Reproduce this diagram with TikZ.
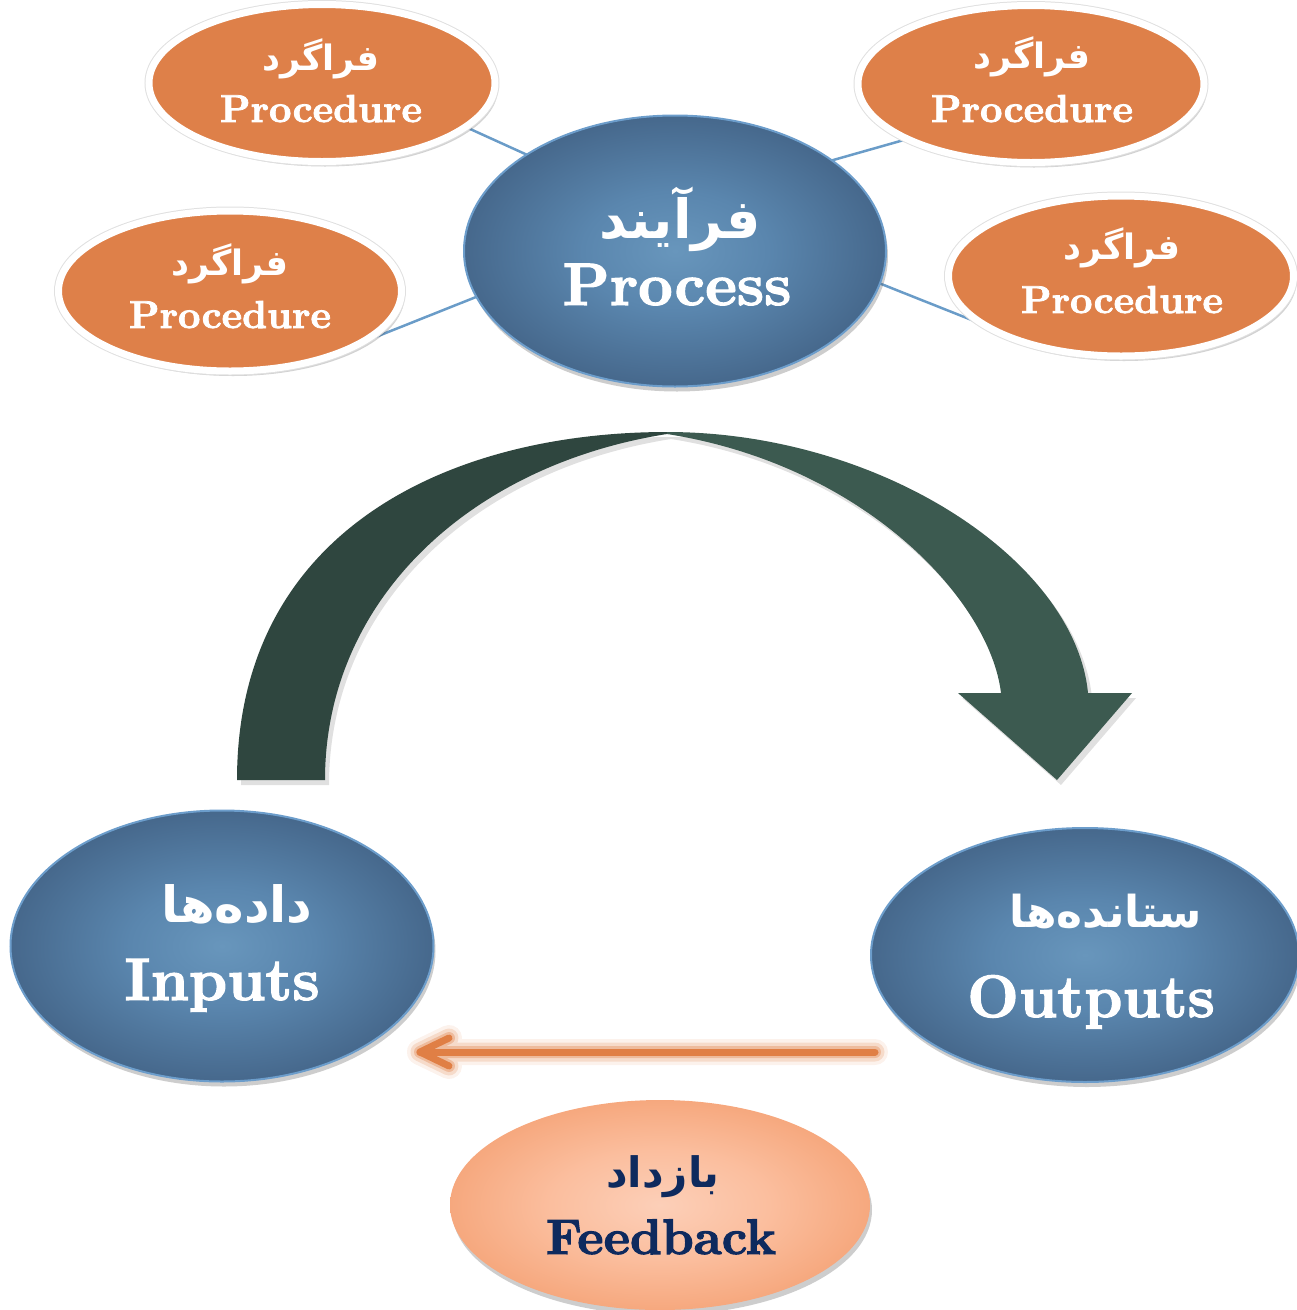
\documentclass[tikz,border=0pt]{standalone}
\usepackage{fontspec}
\newfontfamily\arabicfont[Script=Arabic]{DejaVu Sans}
\newfontfamily\heavyfont[FakeBold=2]{lmroman10-bold.otf}
\TeXXeTstate=1
\usetikzlibrary{shapes.geometric,shadows,calc}

\definecolor{procOr}{HTML}{DE8049}
\definecolor{blueIn}{HTML}{6896BC}
\definecolor{blueMid}{HTML}{5A86AE}
\definecolor{blueOut}{HTML}{46688C}
\definecolor{blueEdge}{HTML}{6C9DCB}
\definecolor{peachIn}{HTML}{FCCFB8}
\definecolor{peachMid}{HTML}{FBBE9E}
\definecolor{peachOut}{HTML}{F6A87E}
\definecolor{navy}{HTML}{0E2A5E}
\definecolor{linkBlue}{HTML}{6A9CC8}
\definecolor{bandL}{HTML}{2F463F}
\definecolor{bandR}{HTML}{3C5A50}
\definecolor{fbOr}{HTML}{E07F45}

\pgfdeclareradialshading{bluefill}{\pgfpoint{0bp}{0bp}}{%
  color(0bp)=(blueIn); color(11bp)=(blueMid); color(25bp)=(blueOut); color(50bp)=(blueOut)}
\pgfdeclareradialshading{peachfill}{\pgfpoint{0bp}{0bp}}{%
  color(0bp)=(peachIn); color(13bp)=(peachMid); color(25bp)=(peachOut); color(50bp)=(peachOut)}

\pgfdeclarelayer{bg}
\pgfsetlayers{bg,main}

\tikzset{
  softshadow/.style={drop shadow={shadow xshift=2pt, shadow yshift=-5pt, opacity=0.28, fill=black!70}},
  procbub/.style={ellipse, fill=procOr, draw=white, line width=7pt, inner sep=0pt, outer sep=0pt,
    drop shadow={shadow xshift=3pt, shadow yshift=-5pt, opacity=0.25, fill=black!70},
    preaction={draw=black!12, line width=9pt}},
  bluebub/.style={ellipse, draw=blueEdge, line width=2pt, shading=bluefill, inner sep=0pt, outer sep=0pt, softshadow},
  peachbub/.style={ellipse, shading=peachfill, inner sep=0pt, outer sep=0pt, softshadow},
  entxt/.style={text=white, inner sep=0pt, anchor=base, font=\heavyfont\fontsize{#1}{#1}\selectfont},
  artxt/.style={text=white, inner sep=0pt, anchor=center, font=\arabicfont\bfseries\fontsize{#1}{#1}\selectfont},
  link/.style={draw=linkBlue, line width=2.5pt},
}

\begin{document}
\begin{tikzpicture}[x=1pt,y=-1pt]
\useasboundingbox (0,0) rectangle (1297,1310);

% procedure bubbles around the process
\node[procbub, minimum width=346pt, minimum height=157pt] (pTL) at (322,83) {};
\node[procbub, minimum width=346pt, minimum height=157pt] (pTR) at (1031,84) {};
\node[procbub, minimum width=343pt, minimum height=160pt] (pML) at (230,291) {};
\node[procbub, minimum width=345pt, minimum height=160pt] (pMR) at (1121,276) {};

\node[artxt=35] (aTL) at (321,59) {\beginR فراگرد\endR};
\node[entxt=39] (eTL) at (321,122) {Procedure};
\node[artxt=35] (aTR) at (1032,57) {\beginR فراگرد\endR};
\node[entxt=39] (eTR) at (1032,122) {Procedure};
\node[artxt=35] (aML) at (230,264) {\beginR فراگرد\endR};
\node[entxt=39] (eML) at (230,328) {Procedure};
\node[artxt=35] (aMR) at (1122,248) {\beginR فراگرد\endR};
\node[entxt=39] (eMR) at (1122,313) {Procedure};

% process bubble
\node[bluebub, minimum width=422pt, minimum height=271pt] (proc) at (675,251) {};
\node[artxt=54] (aProc) at (680,219) {\beginR فرآیند\endR};
\node[entxt=60] (eProc) at (677,305) {Process};

% thin links from the process to each procedure
\begin{pgfonlayer}{bg}
  \draw[link] (pTL.-17) -- (proc.147);
  \draw[link] (pTR.204) -- (proc.30);
  \draw[link] (pML.-22) -- (proc.193);
  \draw[link] (pMR.200) -- (proc.-9);
\end{pgfonlayer}

% inputs and outputs
\node[bluebub, minimum width=423pt, minimum height=271pt] (inp) at (222,946) {};
\node[artxt=50] (aInp) at (237,904) {\beginR داده^^^^200cها\endR};
\node[entxt=60] (eInp) at (222,1000) {Inputs};

\node[bluebub, minimum width=428pt, minimum height=254pt] (out) at (1085,955) {};
\node[artxt=44] (aOut) at (1106,911) {\beginR ستانده^^^^200cها\endR};
\node[entxt=60] (eOut) at (1091,1017) {Outputs};

% feedback bubble
\node[peachbub, minimum width=420pt, minimum height=210pt] (fb) at (660,1205) {};
\node[artxt=42, text=navy] (aFb) at (663,1177) {\beginR بازداد\endR};
\node[entxt=50, text=navy] (eFb) at (661,1254) {Feedback};

% curved arrow from inputs over to outputs
\begin{scope}[shift={(4,5)}]
  \fill[black, opacity=0.12]
    (237,780) .. controls (237,530) and (450,432) .. (667,432)
    .. controls (880,432) and (1075,560) .. (1088,693)
    -- (1132,693) -- (1057,780) -- (958,693) -- (1001,693)
    .. controls (990,600) and (864,465) .. (667,434)
    .. controls (470,465) and (325,600) .. (325,780) -- cycle;
\end{scope}
\fill[bandL] (237,780) .. controls (237,530) and (450,432) .. (667,432)
  -- (667,434) .. controls (470,465) and (325,600) .. (325,780) -- cycle;
\fill[bandR] (667,432) .. controls (880,432) and (1075,560) .. (1088,693)
  -- (1132,693) -- (1057,780) -- (958,693) -- (1001,693)
  .. controls (990,600) and (864,465) .. (667,434) -- cycle;

% feedback arrow from outputs back to inputs
\coordinate (fbStart) at (875,1052);
\coordinate (fbEnd) at (420,1052);
\foreach \w/\o in {26/0.10, 19/0.2, 12/0.35}{
  \draw[fbOr, opacity=\o, line width=\w pt, line cap=round, line join=round]
    (fbStart) -- (fbEnd) ++(29,-14) -- (fbEnd) -- ++(29,14);
}
\draw[fbOr, line width=7pt, line cap=round, line join=round]
  (fbStart) -- (fbEnd);
\draw[fbOr, line width=7pt, line cap=round, line join=round]
  ($(fbEnd)+(29,-14)$) -- (fbEnd) -- ++(29,14);
\end{tikzpicture}
\end{document}
